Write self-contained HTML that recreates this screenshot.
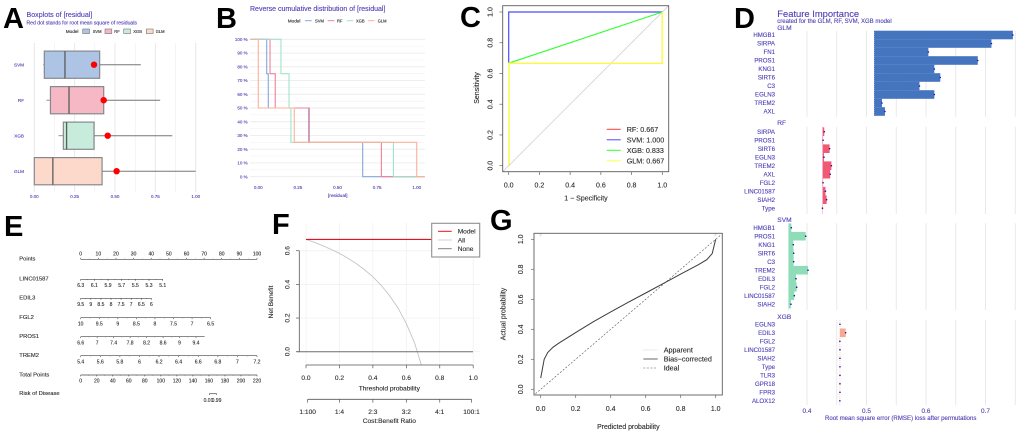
<!DOCTYPE html>
<html lang="en">
<head>
<meta charset="utf-8">
<title>Model comparison figure</title>
<style>
html,body{margin:0;padding:0;background:#fff;width:1020px;height:435px;overflow:hidden}
svg{display:block;font-family:"Liberation Sans",sans-serif;filter:blur(.3px)}
.p{font-weight:700;font-size:29px;fill:#000}
.b{fill:#4f40b4;stroke:#4f40b4;stroke-width:.12}
.k{fill:#2b2b2b;stroke:#2b2b2b;stroke-width:.12}
text[fill="#4f40b4"]{stroke:#4f40b4;stroke-width:.12}
text[fill="#2b2b2b"]{stroke:#2b2b2b;stroke-width:.12}
</style>
</head>
<body>
<svg id="fig" xmlns="http://www.w3.org/2000/svg" width="1020" height="435" viewBox="0 0 1020 435">
<rect width="1020" height="435" fill="#fff"/>
<g id="a"></g>
<g id="b"></g>
<g id="c"></g>
<g id="d"></g>
<g id="e"></g>
<g id="f"></g>
<g id="g"></g>

<text class="p" x="3" y="28">A</text>
<text class="p" x="216" y="28">B</text>
<text class="p" x="460" y="27">C</text>
<text class="p" x="734" y="28">D</text>
<text class="p" x="4" y="236">E</text>
<text class="p" x="272" y="234">F</text>
<text class="p" x="490" y="230">G</text>

<text class="b" x="26.5" y="17" font-size="7.1">Boxplots of [residual]</text>
<text class="b" x="26.5" y="24.5" font-size="5.1">Red dot stands for root mean square of residuals</text>
<text class="k" x="65.7" y="33" font-size="4.7">Model</text>
<text class="b" x="250" y="11" font-size="7">Reverse cumulative distribution of [residual]</text>
<text class="k" x="287.7" y="22.5" font-size="4.7">Model</text>
<text class="b" x="337.7" y="197" font-size="4.8" text-anchor="middle">[residual]</text>
<text class="k" x="586" y="200.5" font-size="7" text-anchor="middle">1 − Specificity</text>
<text class="k" font-size="7" text-anchor="middle" transform="translate(479,88) rotate(-90)">Sensitivity</text>
<text class="b" x="777.3" y="17" font-size="9.4">Feature Importance</text>
<text class="b" x="777.3" y="23" font-size="6">created for the GLM, RF, SVM, XGB model</text>
<text class="b" x="777.3" y="30" font-size="6.6">GLM</text>
<text class="b" x="777.3" y="125" font-size="6.6">RF</text>
<text class="b" x="777.3" y="222" font-size="6.6">SVM</text>
<text class="b" x="777.3" y="319" font-size="6.6">XGB</text>
<text class="b" x="900.7" y="420" font-size="6.1" text-anchor="middle">Root mean square error (RMSE) loss after permutations</text>
<text class="k" x="389.3" y="390.5" font-size="6.6" text-anchor="middle">Threshold probability</text>
<text class="k" x="389.3" y="423" font-size="6.6" text-anchor="middle">Cost:Benefit Ratio</text>
<text class="k" font-size="6.6" text-anchor="middle" transform="translate(273,302) rotate(-90)">Net Benefit</text>
<text class="k" x="628.3" y="429" font-size="6.9" text-anchor="middle">Predicted probability</text>
<text class="k" font-size="6.9" text-anchor="middle" transform="translate(505.5,314) rotate(-90)">Actual probability</text>
</svg>
<script>
// ---------- Panel A data
const boxModels = ['SVM', 'RF', 'XGB', 'GLM'];
const boxMin = [0.055, 0.075, 0.15, 0];
const boxQ1 = [0.062, 0.10, 0.18, 0];
const boxMedian = [0.19, 0.215, 0.20, 0.115];
const boxQ3 = [0.405, 0.43, 0.37, 0.42];
const boxMax = [0.66, 0.78, 0.855, 1.0];
const boxRmse = [0.37, 0.43, 0.455, 0.51];
const boxTicks = ['0.00', '0.25', '0.50', '0.75', '1.00'];
// ---------- Panel B data
const cdfSVM = [0.053, 0.063, 0.318, 0.659];
const cdfRF = [0.074, 0.107, 0.322, 0.777];
const cdfXGB = [0.143, 0.194, 0.206, 0.853];
const cdfGLM = [0, 0, 0.227, 1.0];
const cdfBreaks = [100, 75, 50, 25, 0];
const cdfYTicks = [0, 10, 20, 30, 40, 50, 60, 70, 80, 90, 100];
// ---------- Panel C data
const rocFprRF = [0, 0, 1, 1];
const rocTprRF = [0, 0.667, 0.667, 1];
const rocFprSVM = [0, 0, 1];
const rocTprSVM = [0, 1, 1];
const rocFprXGB = [0, 0, 1];
const rocTprXGB = [0, 0.667, 1];
const rocFprGLM = [0, 0, 1, 1];
const rocTprGLM = [0, 0.667, 0.667, 1];
const rocLegend = ['RF: 0.667', 'SVM: 1.000', 'XGB: 0.833', 'GLM: 0.667'];
const unitTicks = ['0.0', '0.2', '0.4', '0.6', '0.8', '1.0'];
// ---------- Panel D data
const glmFeatures = ['HMGB1', 'SIRPA', 'FN1', 'PROS1', 'KNG1', 'SIRT6', 'C3', 'EGLN3', 'TREM2', 'AXL'];
const glmLoss = [0.746, 0.710, 0.604, 0.687, 0.614, 0.624, 0.589, 0.614, 0.526, 0.531];
const glmBaseline = 0.513;
const rfFeatures = ['SIRPA', 'PROS1', 'SIRT6', 'EGLN3', 'TREM2', 'AXL', 'FGL2', 'LINC01587', 'SIAH2', 'Type'];
const rfLoss = [0.429, 0.427, 0.438, 0.4285, 0.441, 0.439, 0.427, 0.431, 0.433, 0.426];
const rfBaseline = 0.4263;
const svmFeatures = ['HMGB1', 'PROS1', 'KNG1', 'SIRT6', 'C3', 'TREM2', 'EDIL3', 'FGL2', 'LINC01587', 'SIAH2'];
const svmLoss = [0.3737, 0.3978, 0.377, 0.3776, 0.3776, 0.4017, 0.3815, 0.3827, 0.3787, 0.373];
const svmBaseline = 0.369;
const xgbFeatures = ['EGLN3', 'EDIL3', 'FGL2', 'LINC01587', 'SIAH2', 'Type', 'TLR3', 'GPR18', 'FPR3', 'ALOX12'];
const xgbLoss = [0.4554, 0.465, 0.4552, 0.4554, 0.4554, 0.4554, 0.4554, 0.4554, 0.4554, 0.4552];
const xgbBaseline = 0.4554;
const lossTicks = [0.4, 0.5, 0.6, 0.7];
const lossGrid = [0.4, 0.45, 0.5, 0.55, 0.6, 0.65, 0.7, 0.75];
// ---------- Panel E data
const nomoPoints = ['0', '10', '20', '30', '40', '50', '60', '70', '80', '90', '100'];
const nomoLinc = ['6.3', '6.1', '5.9', '5.7', '5.5', '5.3', '5.1'];
const nomoEdil = ['9.5', '9', '8.5', '8', '7.5', '7', '6.5', '6'];
const nomoFgl = ['10', '9.5', '9', '8.5', '8', '7.5', '7', '6.5'];
const nomoPros = ['6.6', '7', '7.4', '7.8', '8.2', '8.6', '9', '9.4'];
const nomoTrem = ['5.4', '5.6', '5.8', '6', '6.2', '6.4', '6.6', '6.8', '7', '7.2'];
const nomoTotal = ['0', '20', '40', '60', '80', '100', '120', '140', '160', '180', '200', '220'];
const nomoEndPoints = [46.5, 40.1, 73.7, 65.4, 100];
const nomoLineEnd = [46.5, 40.1, 73.7, 70.3, 100];
// ---------- Panel F data
const dcaThreshold = [0, 0.05, 0.1, 0.15, 0.2, 0.25, 0.3, 0.35, 0.4, 0.45, 0.5, 0.55, 0.6, 0.65, 0.69];
const dcaAll = [0.667, 0.65, 0.63, 0.608, 0.584, 0.556, 0.524, 0.487, 0.445, 0.394, 0.333, 0.26, 0.167, 0.05, -0.08];
const dcaModel = [0.667, 0.667];
const dcaNone = [0, 0];
const dcaRatio = ['1:100', '1:4', '2:3', '3:2', '4:1', '100:1'];
const dcaRatioAt = [0.01, 0.2, 0.4, 0.6, 0.8, 0.99];
const dcaYTicks = ['0.0', '0.2', '0.4', '0.6'];
// ---------- Panel G data
const calPred = [0, 0.02, 0.04, 0.07, 0.1, 0.2, 0.3, 0.4, 0.5, 0.6, 0.7, 0.8, 0.9, 0.95, 0.98, 1.0];
const calBias = [0.075, 0.2, 0.245, 0.28, 0.305, 0.378, 0.45, 0.516, 0.58, 0.642, 0.705, 0.768, 0.83, 0.865, 0.905, 1.0];
const calApparent = [0.08, 0.2, 0.245, 0.28, 0.306, 0.38, 0.45, 0.516, 0.58, 0.64, 0.705, 0.768, 0.83, 0.866, 0.905, 1.0];

const NS = 'http://www.w3.org/2000/svg';
const BLUE = '#4f40b4', INK = '#2b2b2b';

function line(parent, name, x1, y1, x2, y2, stroke, w, dash) {
  const el = document.createElementNS(NS, 'line');
  
  
  el.setAttribute('x1', x1); el.setAttribute('y1', y1);
  el.setAttribute('x2', x2); el.setAttribute('y2', y2);
  el.setAttribute('stroke', stroke); el.setAttribute('stroke-width', w);
  if (dash) el.setAttribute('stroke-dasharray', dash);
  parent.appendChild(el);
  return el;
}
function rect(parent, name, x, y, w, h, fill, stroke, sw) {
  const el = document.createElementNS(NS, 'rect');
  
  
  el.setAttribute('x', x); el.setAttribute('y', y);
  el.setAttribute('width', w); el.setAttribute('height', h);
  el.setAttribute('fill', fill);
  if (stroke) { el.setAttribute('stroke', stroke); el.setAttribute('stroke-width', sw); }
  parent.appendChild(el);
  return el;
}
function dot(parent, name, x, y, r, fill) {
  const el = document.createElementNS(NS, 'circle');
  
  
  el.setAttribute('cx', x); el.setAttribute('cy', y); el.setAttribute('r', r);
  el.setAttribute('fill', fill);
  parent.appendChild(el);
  return el;
}
function poly(parent, name, xs, ys, stroke, w, dash) {
  const el = document.createElementNS(NS, 'polyline');
  
  
  el.setAttribute('points', xs.map((x, i) => x.toFixed(2) + ',' + ys[i].toFixed(2)).join(' '));
  el.setAttribute('fill', 'none');
  el.setAttribute('stroke', stroke); el.setAttribute('stroke-width', w);
  el.setAttribute('stroke-linejoin', 'miter');
  if (dash) el.setAttribute('stroke-dasharray', dash);
  parent.appendChild(el);
  return el;
}
function label(parent, name, x, y, str, size, fill, anchor, rot) {
  const el = document.createElementNS(NS, 'text');
  
  
  el.setAttribute('font-size', size);
  el.setAttribute('fill', fill);
  el.setAttribute('text-anchor', anchor || 'middle');
  if (rot) el.setAttribute('transform', 'translate(' + x + ',' + y + ') rotate(' + rot + ')');
  else { el.setAttribute('x', x); el.setAttribute('y', y); }
  el.textContent = str;
  parent.appendChild(el);
  return el;
}

// ---------- Panel A
(function () {
  const g = document.getElementById('a');
  const x = v => 34.3 + v * 161.4;
  const bandY = i => 64.7 + i * 35.5;
  const fills = ['#aec4e4', '#f6b8c4', '#c8ecdc', '#fdd9cc'];
  const keyX = [82.7, 105, 123.7, 146.3];
  const keyText = [92.7, 114.3, 133.3, 155.7];
  for (let t = 0; t <= 8; t++) {
    line(g, 'boxplot-gridline', x(t / 8), 43, x(t / 8), 192, '#e8e8e8', t % 2 ? 0.5 : 1);
  }
  boxModels.forEach((m, i) => {
    const y = bandY(i);
    line(g, 'boxplot-whisker-' + m, x(boxMin[i]), y, x(boxQ1[i]), y, '#888', 0.9);
    line(g, 'boxplot-whisker-' + m, x(boxQ3[i]), y, x(boxMax[i]), y, '#777', 1);
    rect(g, 'boxplot-box-' + m, x(boxQ1[i]), y - 13.6, x(boxQ3[i]) - x(boxQ1[i]), 27.2, fills[i], '#85898f', 1.2);
    line(g, 'boxplot-median-' + m, x(boxMedian[i]), y - 13.6, x(boxMedian[i]), y + 13.6, '#5c5c5c', 1.3);
    dot(g, 'boxplot-rmse-dot-' + m, x(boxRmse[i]), y, 3.2, '#ff0000');
    label(g, 'boxplot-category-label', 24, y + 1.6, m, 4.6, BLUE, 'end');
    rect(g, 'legend-key-' + m, keyX[i], 29, 6.8, 4.6, fills[i], '#777', 0.6);
    label(g, 'legend-label-' + m, keyText[i], 33, m, 4.1, INK, 'start');
  });
  boxTicks.forEach((t, i) => {
    label(g, 'boxplot-x-tick-label', x(i * 0.25), 198.2, t, 4.5, BLUE);
  });
})();

// ---------- Panel B
(function () {
  const g = document.getElementById('b');
  const x = v => 258.3 + v * 158.4;
  const y = p => 176.7 - p * 1.374;
  const series = [cdfSVM, cdfRF, cdfXGB, cdfGLM];
  const names = boxModels;
  const cols = ['#84a8da', '#f0809a', '#9fe4ca', '#fdb09a'];
  const keyX = [305, 327.7, 346.7, 367.7];
  const textX = [315, 337, 356, 377.7];
  for (let p = 0; p <= 100; p += 5) {
    line(g, 'cdf-gridline', 250, y(p), 425, y(p), '#ebebeb', p % 10 ? 0.4 : 0.9);
  }
  cdfYTicks.forEach(p => {
    label(g, 'cdf-y-tick-label', 247.7, y(p) + 1.6, p + ' %', 4.5, BLUE, 'end');
  });
  boxTicks.forEach((t, i) => {
    label(g, 'cdf-x-tick-label', x(i * 0.25), 189.2, t, 4.5, BLUE);
  });
  series.forEach((s, k) => {
    const px = [-0.05], py = [100];
    s.forEach((v, i) => {
      px.push(v, v); py.push(cdfBreaks[i], cdfBreaks[i + 1]);
    });
    px.push(1.05); py.push(0);
    poly(g, 'cdf-line-' + names[k], px.map(x), py.map(y), cols[k], 1.1);
    line(g, 'legend-key-' + names[k], keyX[k], 20.7, keyX[k] + 6.7, 20.7, cols[k], 1);
    label(g, 'legend-label-' + names[k], textX[k], 22.3, names[k], 4.1, INK, 'start');
  });
})();

// ---------- Panel C
(function () {
  const g = document.getElementById('c');
  const x = v => 508.7 + v * 153.6;
  const y = v => 165.7 - v * 153.7;
  line(g, 'roc-diagonal', x(-0.04), y(-0.04), x(1.04), y(1.04), '#c4c4c4', 0.6);
  poly(g, 'roc-curve-rf', rocFprRF.map(x), rocTprRF.map(y), '#ff3b3b', 1.1);
  poly(g, 'roc-curve-svm', rocFprSVM.map(x), rocTprSVM.map(y), '#4b4bff', 1.2);
  poly(g, 'roc-curve-xgb', rocFprXGB.map(x), rocTprXGB.map(y), '#2fff2f', 1.1);
  poly(g, 'roc-curve-glm', rocFprGLM.map(x), rocTprGLM.map(y), '#ffff4d', 1.4);
  rect(g, 'roc-plot-box', 502.7, 5.7, 166, 166, 'none', '#5c5c5c', 0.9);
  unitTicks.forEach((t, i) => {
    const v = i * 0.2;
    line(g, 'roc-x-tick', x(v), 171.7, x(v), 175, '#666', 0.7);
    line(g, 'roc-y-tick', 502.7, y(v), 499.4, y(v), '#666', 0.7);
    label(g, 'roc-x-tick-label', x(v), 187.5, t, 7, INK);
    label(g, 'roc-y-tick-label', 492.5, y(v), t, 7, INK, 'middle', -90);
  });
  const cols = ['#ff3b3b', '#4b4bff', '#2fff2f', '#ffff4d'];
  rocLegend.forEach((t, i) => {
    const ly = 129.3 + i * 10.5;
    line(g, 'roc-legend-key', 606.7, ly, 620.7, ly, cols[i], 1);
    label(g, 'roc-legend-label', 626.7, ly + 2.5, t, 7.2, INK, 'start');
  });
})();

// ---------- Panel D
(function () {
  const g = document.getElementById('d');
  const x = v => 807 + (v - 0.4) * 595;
  const panels = [
    { n: 'glm', f: glmFeatures, v: glmLoss, b: glmBaseline, c: '#4575bf', y0: 35, top: 31, bot: 116.7 },
    { n: 'rf', f: rfFeatures, v: rfLoss, b: rfBaseline, c: '#f05a75', y0: 131.7, top: 126.7, bot: 214 },
    { n: 'svm', f: svmFeatures, v: svmLoss, b: svmBaseline, c: '#8fdcb9', y0: 227.7, top: 223.3, bot: 310 },
    { n: 'xgb', f: xgbFeatures, v: xgbLoss, b: xgbBaseline, c: '#f9a88e', y0: 324.3, top: 320, bot: 405 }
  ];
  panels.forEach(p => {
    lossGrid.forEach(t => {
      line(g, 'importance-gridline', x(t), p.top, x(t), p.bot, '#e8e8e8', 1);
    });
    line(g, 'importance-baseline-' + p.n, x(p.b), p.top, x(p.b), p.bot, p.c, 0.5, '1 1');
    p.f.forEach((name, i) => {
      const cy = p.y0 + i * 8.5;
      const x0 = Math.min(x(p.b), x(p.v[i]));
      rect(g, 'importance-bar-' + p.n + '-' + name, x0, cy - 4.3, Math.abs(x(p.v[i]) - x(p.b)), 8.6, p.c);
    });
    p.f.forEach((name, i) => {
      const cy = p.y0 + i * 8.5;
      dot(g, 'importance-point-' + p.n + '-' + name, x(p.v[i]), cy, 0.8, '#1c10a8');
      label(g, 'importance-feature-label', 775, cy + 2.1, name, 6.1, BLUE, 'end');
    });
  });
  lossTicks.forEach(t => {
    label(g, 'importance-x-tick-label', x(t), 413.2, t.toFixed(1), 6.4, BLUE);
  });
})();

// ---------- Panel E
(function () {
  const g = document.getElementById('e');
  const x = p => 80.7 + p * 1.763;
  function scale(name, title, ticks, yLine, endPt, lineEnd, above) {
    label(g, 'nomogram-row-label', 19.3, yLine + 1.4, title, 5.8, INK, 'start');
    line(g, 'nomogram-axis-' + name, x(0), yLine, x(lineEnd), yLine, '#444', 0.7);
    ticks.forEach((t, i) => {
      const p = endPt * i / (ticks.length - 1);
      line(g, 'nomogram-tick-' + name, x(p), yLine, x(p), yLine + (above ? -1.4 : 1.4), '#444', 0.6);
      label(g, 'nomogram-tick-label-' + name, x(p), above ? yLine - 4 : yLine + 7.6, t, 5, INK);
      if (i < ticks.length - 1) {
        const mid = endPt * (i + 0.5) / (ticks.length - 1);
        line(g, 'nomogram-minor-tick-' + name, x(mid), yLine, x(mid), yLine + (above ? -0.8 : 0.8), '#666', 0.5);
      }
    });
  }
  scale('points', 'Points', nomoPoints, 259.3, 100, 100, true);
  scale('linc01587', 'LINC01587', nomoLinc, 279.3, nomoEndPoints[0], nomoLineEnd[0], false);
  scale('edil3', 'EDIL3', nomoEdil, 298.3, nomoEndPoints[1], nomoLineEnd[1], false);
  scale('fgl2', 'FGL2', nomoFgl, 317.7, nomoEndPoints[2], nomoLineEnd[2], false);
  scale('pros1', 'PROS1', nomoPros, 336.7, nomoEndPoints[3], nomoLineEnd[3], false);
  scale('trem2', 'TREM2', nomoTrem, 355.7, nomoEndPoints[4], nomoLineEnd[4], false);
  scale('total-points', 'Total Points', nomoTotal, 375, 100, 100, false);
  label(g, 'nomogram-row-label', 19.3, 395, 'Risk of Disease', 5.8, INK, 'start');
  line(g, 'nomogram-risk-axis', 209.3, 393.7, 216.7, 393.7, '#444', 0.7);
  line(g, 'nomogram-risk-tick', 209.3, 393.7, 209.3, 395, '#444', 0.6);
  line(g, 'nomogram-risk-tick', 216.7, 393.7, 216.7, 395, '#444', 0.6);
  label(g, 'nomogram-risk-label-low', 208.5, 401.8, '0.01', 5, INK);
  label(g, 'nomogram-risk-label-high', 216.5, 401.8, '0.99', 5, INK);
})();

// ---------- Panel F
(function () {
  const g = document.getElementById('f');
  const x = v => 306 + v * 167.2;
  const y = v => 351.7 - v * 168.3;
  unitTicks.forEach((t, i) => {
    line(g, 'dca-gridline-vertical', x(i * 0.2), 223, x(i * 0.2), 365, '#efefef', 0.7);
  });
  dcaYTicks.forEach((t, i) => {
    line(g, 'dca-gridline-horizontal', 299, y(i * 0.2), 480, y(i * 0.2), '#efefef', 0.7);
    line(g, 'dca-y-tick', 299.3, y(i * 0.2), 296, y(i * 0.2), '#555', 0.7);
    label(g, 'dca-y-tick-label', 289.3, y(i * 0.2), t, 6.6, INK, 'middle', -90);
  });
  line(g, 'dca-y-axis', 299.3, y(0), 299.3, y(0.6), '#555', 0.8);
  poly(g, 'dca-curve-all', dcaThreshold.map(x), dcaAll.map(y), '#c4c4c4', 0.9);
  line(g, 'dca-line-none', 296.7, y(dcaNone[0]), 473, y(dcaNone[1]), '#6e6e6e', 1);
  line(g, 'dca-line-model', 306, y(dcaModel[0]), 473, y(dcaModel[1]), '#e8101e', 1.1);
  line(g, 'dca-x-axis', x(0), 365, x(1), 365, '#555', 0.8);
  unitTicks.forEach((t, i) => {
    line(g, 'dca-x-tick', x(i * 0.2), 365, x(i * 0.2), 368.3, '#555', 0.7);
    label(g, 'dca-x-tick-label', x(i * 0.2), 380.2, t, 6.6, INK);
  });
  line(g, 'dca-ratio-axis', x(0.01), 399.3, x(0.99), 399.3, '#555', 0.8);
  dcaRatio.forEach((t, i) => {
    line(g, 'dca-ratio-tick', x(dcaRatioAt[i]), 399.3, x(dcaRatioAt[i]), 402.6, '#555', 0.7);
    label(g, 'dca-ratio-label', x(dcaRatioAt[i]), 413.8, t, 6.6, INK);
  });
  rect(g, 'dca-legend-box', 431.7, 223.3, 48, 33.7, '#fff', '#8f8f8f', 1.1);
  const cols = ['#e8101e', '#dddddd', '#808080'];
  ['Model', 'All', 'None'].forEach((t, i) => {
    const ly = 231.3 + i * 8.7;
    line(g, 'dca-legend-key', 438, ly, 451.7, ly, cols[i], i === 1 ? 1.4 : 1);
    label(g, 'dca-legend-label', 457.7, ly + 2.3, t, 6.6, INK, 'start');
  });
})();

// ---------- Panel G
(function () {
  const g = document.getElementById('g');
  const x = v => 540.7 + v * 175;
  const y = v => 389.3 - v * 150;
  line(g, 'calibration-ideal-line', x(-0.03), y(-0.03), x(1.03), y(1.03), '#555', 0.6, '2 1.6');
  poly(g, 'calibration-apparent-line', calPred.map(x), calApparent.map(y), '#aaa', 0.6, '1 1');
  poly(g, 'calibration-bias-corrected-line', calPred.map(x), calBias.map(y), '#3c3c3c', 1);
  line(g, 'calibration-rug-low', x(0) - 1.5, 235, x(0) + 1.5, 235, '#ccc', 0.5);
  line(g, 'calibration-rug-low', x(0), 233.5, x(0), 236.5, '#ccc', 0.5);
  line(g, 'calibration-rug-high', x(1) - 1.5, 235, x(1) + 1.5, 235, '#ccc', 0.5);
  line(g, 'calibration-rug-high', x(1), 233.5, x(1), 236.5, '#ccc', 0.5);
  rect(g, 'calibration-plot-box', 534, 233.3, 188.3, 161.7, 'none', '#5c5c5c', 0.9);
  unitTicks.forEach((t, i) => {
    const v = i * 0.2;
    line(g, 'calibration-x-tick', x(v), 395, x(v), 398, '#666', 0.7);
    line(g, 'calibration-y-tick', 534, y(v), 531, y(v), '#666', 0.7);
    label(g, 'calibration-x-tick-label', x(v), 411, t, 6.9, INK);
    label(g, 'calibration-y-tick-label', 523.2, y(v), t, 6.9, INK, 'middle', -90);
  });
  const names = ['Apparent', 'Bias−corrected', 'Ideal'];
  const widths = [0.6, 1.1, 0.6];
  const dashes = ['1 1', '', '2 1.6'];
  const cols = ['#aaa', '#777', '#555'];
  names.forEach((t, i) => {
    const ly = 350 + i * 9;
    line(g, 'calibration-legend-key', 643.3, ly, 657.7, ly, cols[i], widths[i], dashes[i]);
    label(g, 'calibration-legend-label', 663.7, ly + 2.4, t, 7.2, INK, 'start');
  });
})();
</script>
</body>
</html>
